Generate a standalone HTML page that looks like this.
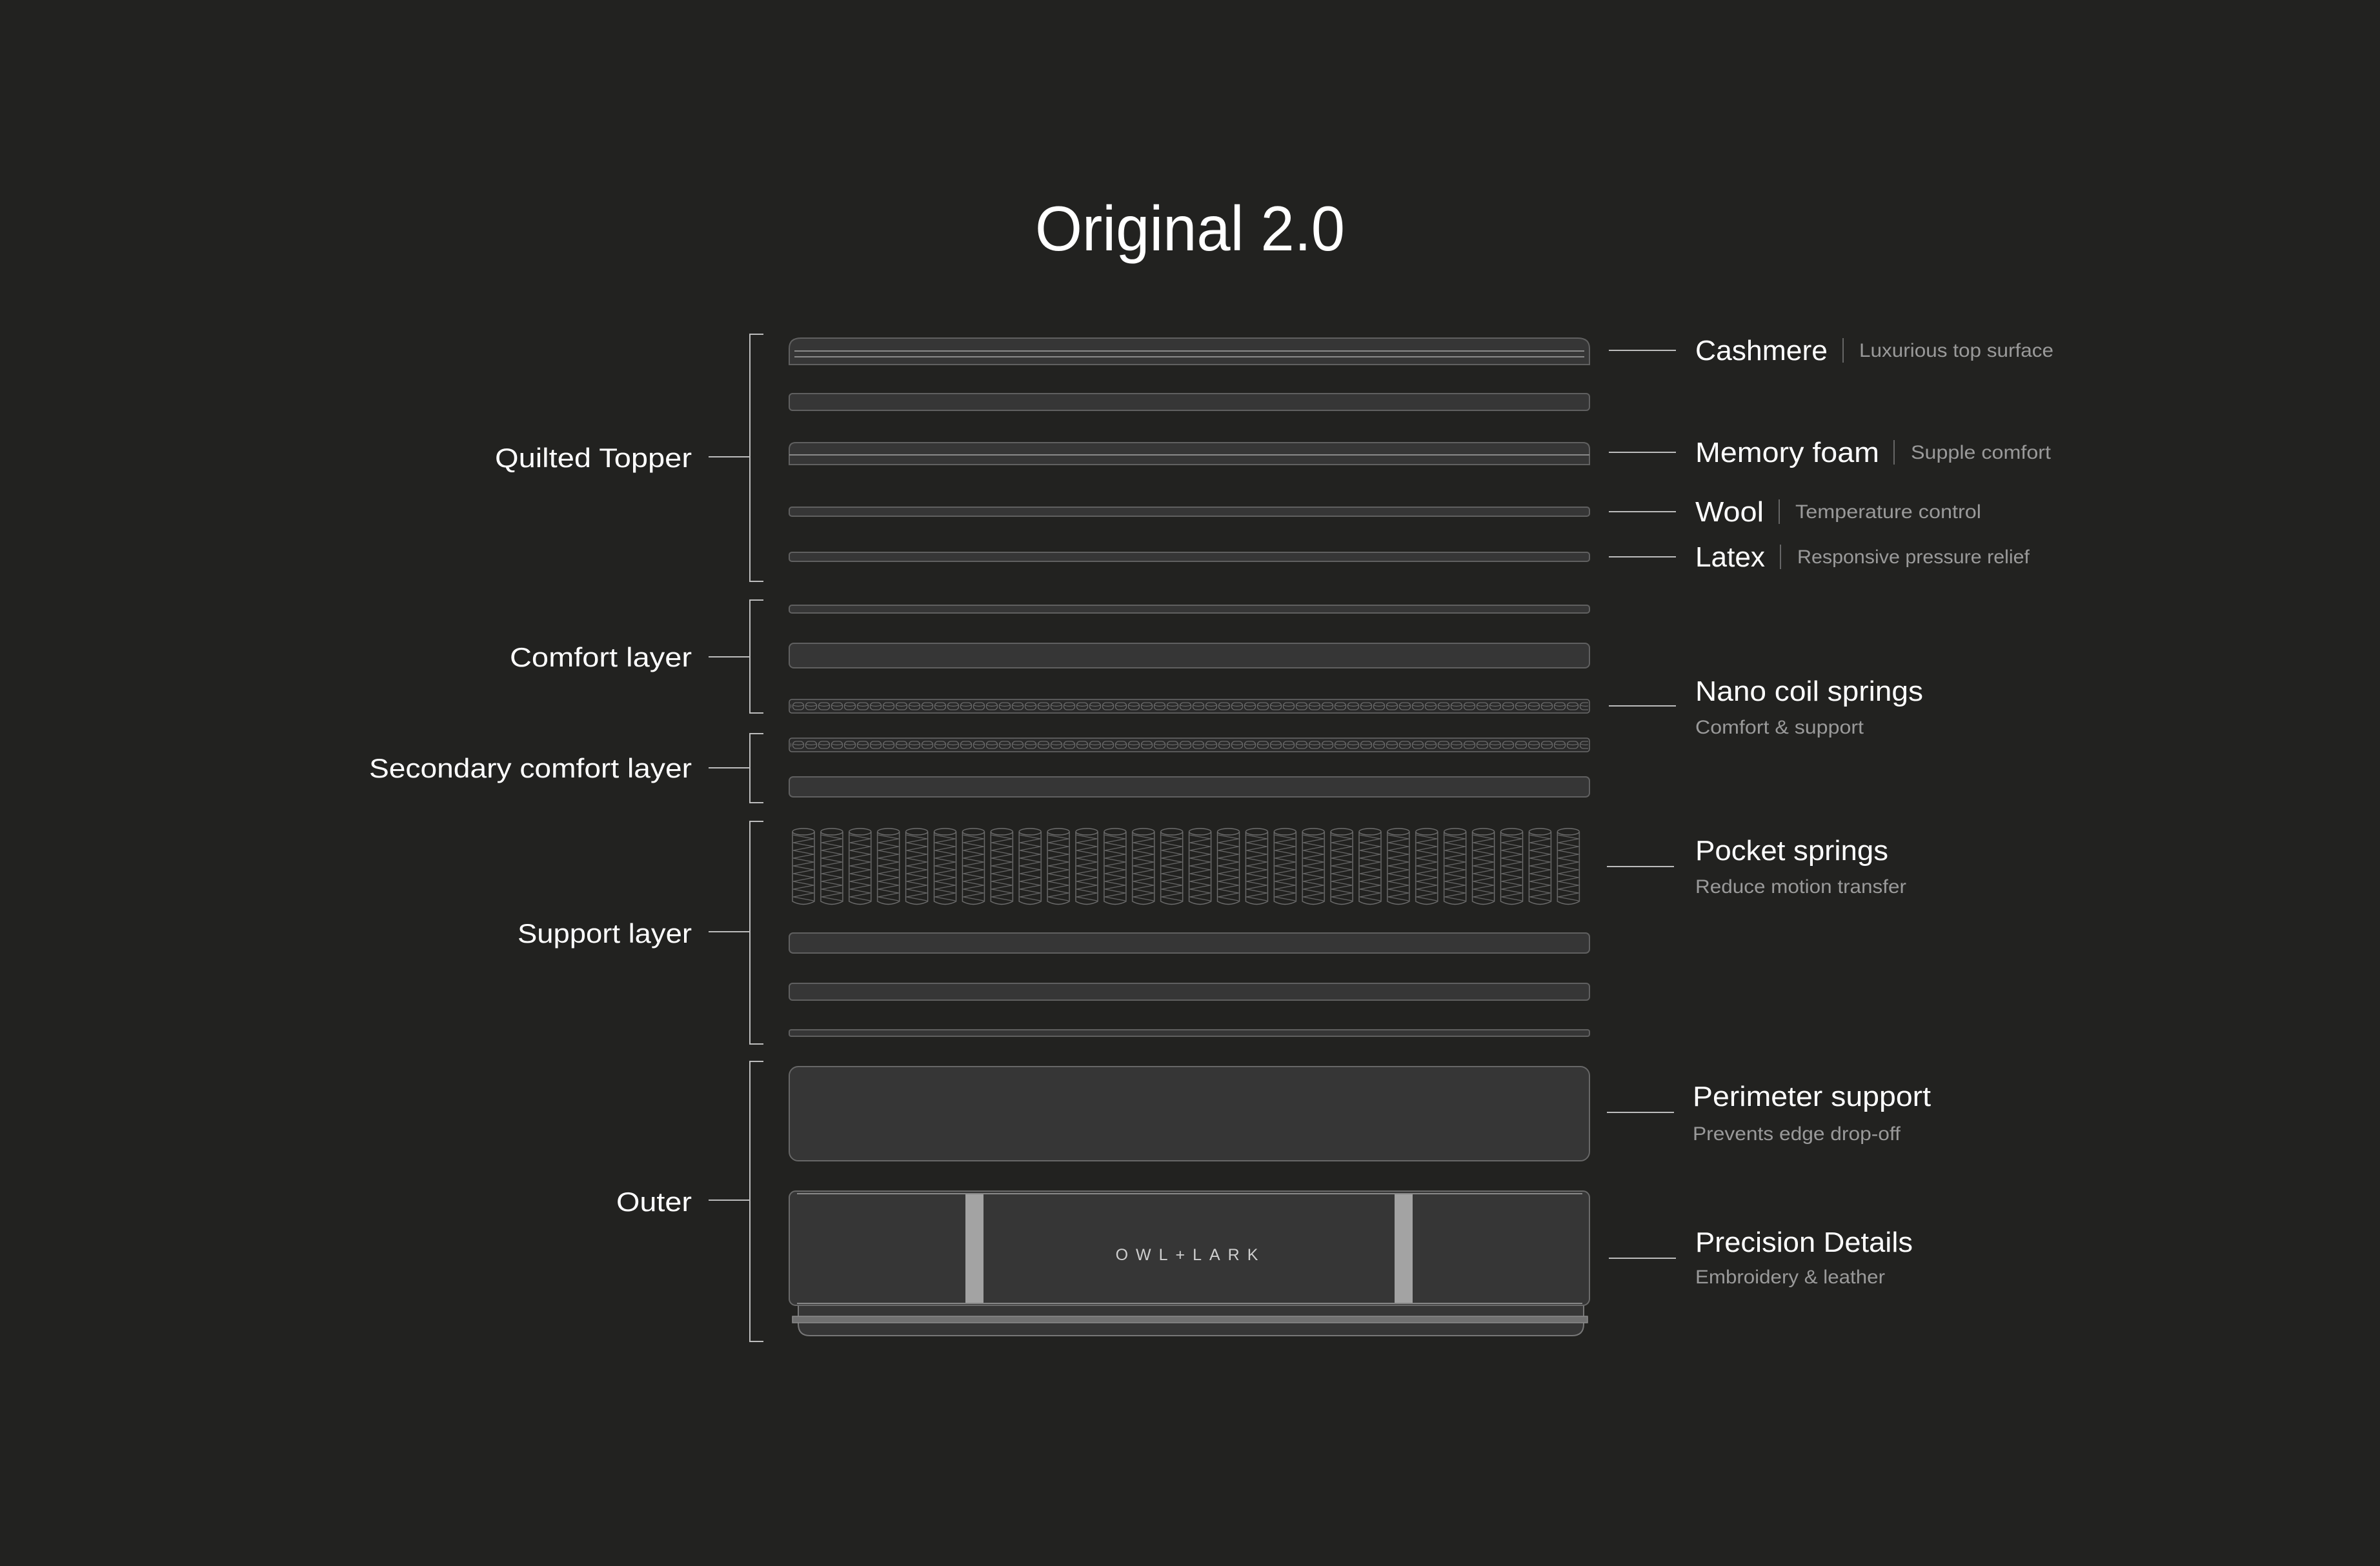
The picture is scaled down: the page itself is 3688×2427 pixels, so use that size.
<!DOCTYPE html>
<html><head><meta charset="utf-8"><style>
html,body{margin:0;padding:0;background:#222220;}
svg{display:block;}
text{font-family:"Liberation Sans",sans-serif;}
</style></head><body>
<svg width="3688" height="2427" viewBox="0 0 3688 2427" xmlns="http://www.w3.org/2000/svg">
<defs>
<pattern id="nano" patternUnits="userSpaceOnUse" x="1227" y="1084" width="20" height="21">
<rect x="1.5" y="5" width="17" height="11" rx="5" fill="none" stroke="#6a6a6a" stroke-width="1.3"/>
<path d="M2 9 Q10 12 18 9" fill="none" stroke="#6a6a6a" stroke-width="1.2"/>
</pattern>
<pattern id="nano2" patternUnits="userSpaceOnUse" x="1227" y="1144" width="20" height="21">
<rect x="1.5" y="5" width="17" height="11" rx="5" fill="none" stroke="#6a6a6a" stroke-width="1.3"/>
<path d="M2 9 Q10 12 18 9" fill="none" stroke="#6a6a6a" stroke-width="1.2"/>
</pattern>
<pattern id="spring" patternUnits="userSpaceOnUse" x="1227" y="1282" width="43.9" height="124">
<path d="M1 7 L1 115 Q18 124 35 115 L35 7" fill="none" stroke="#6e6e6e" stroke-width="1.4"/>
<ellipse cx="18" cy="7" rx="17" ry="5" fill="none" stroke="#6e6e6e" stroke-width="1.4"/>
<polyline points="2,12 34,18 2,24 34,30 2,36 34,42 2,48 34,54 2,60 34,66 2,72 34,78 2,84 34,90 2,96 34,102 2,108 34,114" fill="none" stroke="#666" stroke-width="1.2"/>
</pattern>
</defs>

<text x="1844" y="388" font-size="98" fill="#fff" text-anchor="middle" textLength="480" lengthAdjust="spacingAndGlyphs">Original 2.0</text>

<!-- layers -->
<g stroke="#606060" stroke-width="2" fill="#363636">
<path d="M1223 565 L1223 540 Q1223 524 1241 524 L2445 524 Q2463 524 2463 540 L2463 565 Z"/>
<rect x="1223" y="610" width="1240" height="26" rx="5"/>
<path d="M1223 720 L1223 696 Q1223 686 1233 686 L2453 686 Q2463 686 2463 696 L2463 720 Z"/>
<rect x="1223" y="786" width="1240" height="14" rx="4"/>
<rect x="1223" y="856" width="1240" height="14" rx="4"/>
<rect x="1223" y="938" width="1240" height="12" rx="4"/>
<rect x="1223" y="997" width="1240" height="38" rx="7"/>
<rect x="1223" y="1204" width="1240" height="31" rx="6"/>
<rect x="1223" y="1446" width="1240" height="31" rx="6"/>
<rect x="1223" y="1524" width="1240" height="26" rx="5"/>
<rect x="1223" y="1596" width="1240" height="10" rx="3"/>
</g>
<g stroke="#8a8a8a" stroke-width="2">
<line x1="1231" y1="544" x2="2455" y2="544"/>
<line x1="1231" y1="553" x2="2455" y2="553"/>
<line x1="1223" y1="705" x2="2463" y2="705"/>
</g>
<rect x="1223" y="1084" width="1240" height="21" rx="4" fill="#2a2a2a" stroke="#6a6a6a" stroke-width="1.5"/>
<rect x="1225" y="1084" width="1236" height="21" fill="url(#nano)"/>
<rect x="1223" y="1144" width="1240" height="21" rx="4" fill="#2a2a2a" stroke="#6a6a6a" stroke-width="1.5"/>
<rect x="1225" y="1144" width="1236" height="21" fill="url(#nano2)"/>
<rect x="1227" y="1282" width="1229" height="124" fill="url(#spring)"/>

<rect x="1223" y="1653" width="1240" height="146" rx="14" fill="#363636" stroke="#676767" stroke-width="2"/>
<path d="M1237 2023 L1237 2052 Q1237 2070 1255 2070 L2436 2070 Q2454 2070 2454 2052 L2454 2023 Z" fill="#363636" stroke="#777" stroke-width="2"/>
<rect x="1228" y="2040" width="1232" height="10" fill="#707070" stroke="#8a8a8a" stroke-width="1.5"/>
<rect x="1223" y="1846" width="1240" height="177" rx="10" fill="#363636" stroke="#6a6a6a" stroke-width="2"/>
<line x1="1235" y1="1850" x2="2452" y2="1850" stroke="#888" stroke-width="2"/>
<line x1="1235" y1="2020" x2="2452" y2="2020" stroke="#888" stroke-width="2"/>
<rect x="1496" y="1851" width="28" height="168" fill="#a3a3a3"/>
<rect x="2161" y="1851" width="28" height="168" fill="#a3a3a3"/>
<text x="1845" y="1953" font-size="25" fill="#cfcfcf" text-anchor="middle" letter-spacing="12">OWL+LARK</text>

<!-- brackets -->
<g stroke="#bdbdbd" stroke-width="2" fill="none">
<path d="M1183 518 L1162 518 L1162 901 L1183 901 M1098 708 L1162 708"/>
<path d="M1183 930 L1162 930 L1162 1105 L1183 1105 M1098 1018 L1162 1018"/>
<path d="M1183 1137 L1162 1137 L1162 1244 L1183 1244 M1098 1190 L1162 1190"/>
<path d="M1183 1273 L1162 1273 L1162 1618 L1183 1618 M1098 1444 L1162 1444"/>
<path d="M1183 1645 L1162 1645 L1162 2079 L1183 2079 M1098 1860 L1162 1860"/>
</g>
<g fill="#fff" font-size="42" text-anchor="end">
<text x="1072" y="724" textLength="305" lengthAdjust="spacingAndGlyphs">Quilted Topper</text>
<text x="1072" y="1033" textLength="282" lengthAdjust="spacingAndGlyphs">Comfort layer</text>
<text x="1072" y="1205" textLength="500" lengthAdjust="spacingAndGlyphs">Secondary comfort layer</text>
<text x="1072" y="1461" textLength="270" lengthAdjust="spacingAndGlyphs">Support layer</text>
<text x="1072" y="1877" textLength="117" lengthAdjust="spacingAndGlyphs">Outer</text>
</g>

<!-- right connectors -->
<g stroke="#bdbdbd" stroke-width="2">
<line x1="2493" y1="543" x2="2597" y2="543"/>
<line x1="2493" y1="701" x2="2597" y2="701"/>
<line x1="2493" y1="793" x2="2597" y2="793"/>
<line x1="2493" y1="863" x2="2597" y2="863"/>
<line x1="2493" y1="1094" x2="2597" y2="1094"/>
<line x1="2490" y1="1343" x2="2594" y2="1343"/>
<line x1="2490" y1="1724" x2="2594" y2="1724"/>
<line x1="2493" y1="1950" x2="2597" y2="1950"/>
</g>
<g stroke="#666" stroke-width="2">
<line x1="2856" y1="524" x2="2856" y2="562"/>
<line x1="2935" y1="682" x2="2935" y2="720"/>
<line x1="2757" y1="774" x2="2757" y2="812"/>
<line x1="2759" y1="844" x2="2759" y2="882"/>
</g>
<g fill="#fff" font-size="44">
<text x="2627" y="558" textLength="205" lengthAdjust="spacingAndGlyphs">Cashmere</text>
<text x="2627" y="716" textLength="285" lengthAdjust="spacingAndGlyphs">Memory foam</text>
<text x="2627" y="808" textLength="106" lengthAdjust="spacingAndGlyphs">Wool</text>
<text x="2627" y="878" textLength="108" lengthAdjust="spacingAndGlyphs">Latex</text>
<text x="2627" y="1086" textLength="353" lengthAdjust="spacingAndGlyphs">Nano coil springs</text>
<text x="2627" y="1333" textLength="299" lengthAdjust="spacingAndGlyphs">Pocket springs</text>
<text x="2623" y="1714" textLength="369" lengthAdjust="spacingAndGlyphs">Perimeter support</text>
<text x="2627" y="1940" textLength="337" lengthAdjust="spacingAndGlyphs">Precision Details</text>
</g>
<g fill="#9a9a9a" font-size="30">
<text x="2881" y="553" textLength="301" lengthAdjust="spacingAndGlyphs">Luxurious top surface</text>
<text x="2961" y="711" textLength="217" lengthAdjust="spacingAndGlyphs">Supple comfort</text>
<text x="2782" y="803" textLength="288" lengthAdjust="spacingAndGlyphs">Temperature control</text>
<text x="2785" y="873" textLength="360" lengthAdjust="spacingAndGlyphs">Responsive pressure relief</text>
<text x="2627" y="1137" textLength="261" lengthAdjust="spacingAndGlyphs">Comfort &amp; support</text>
<text x="2627" y="1384" textLength="327" lengthAdjust="spacingAndGlyphs">Reduce motion transfer</text>
<text x="2623" y="1767" textLength="322" lengthAdjust="spacingAndGlyphs">Prevents edge drop-off</text>
<text x="2627" y="1989" textLength="294" lengthAdjust="spacingAndGlyphs">Embroidery &amp; leather</text>
</g>
</svg>
</body></html>
